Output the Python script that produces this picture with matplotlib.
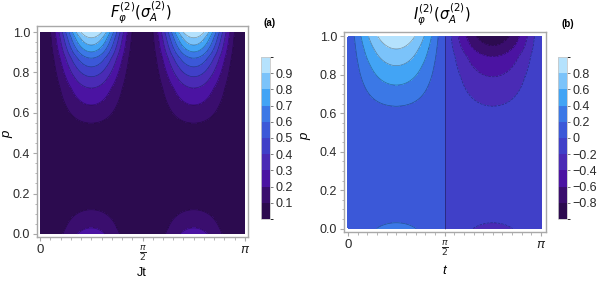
import numpy as np
import matplotlib
matplotlib.use('Agg')
import matplotlib.pyplot as plt
from matplotlib.colors import ListedColormap, BoundaryNorm

plt.rcParams['font.family'] = ['Liberation Sans', 'DejaVu Sans']
plt.rcParams['mathtext.fontset'] = 'dejavusans'

# band colours, lowest band first
band_colors = ['#2c0b4f', '#3a0e6e', '#4b13a2', '#4a2bb5', '#4040c8',
               '#3b58d8', '#3b78e6', '#42a4f5', '#7bc3fa', '#b5e2fd']

# panel (a): value of F at the lobe centre (Jt = pi/4) against p
p_a = [0.0, 0.03, 0.12, 0.2, 0.3, 0.4, 0.5, 0.549, 0.639, 0.723, 0.779,
       0.828, 0.871, 0.902, 0.936, 0.972, 1.0]
g_a = [0.24, 0.2, 0.1, 0.055, 0.03, 0.03, 0.065, 0.1, 0.2, 0.3, 0.4,
       0.5, 0.6, 0.7, 0.8, 0.9, 1.0]
levels_a = [0, 0.1, 0.2, 0.3, 0.4, 0.5, 0.6, 0.7, 0.8, 0.9, 1.0]
ticks_a = [0.1, 0.2, 0.3, 0.4, 0.5, 0.6, 0.7, 0.8, 0.9]

# panel (b): |I| at the lobe centres (t = pi/4 positive, t = 3pi/4 negative) against p
p_b = [0.0, 0.03, 0.1, 0.2, 0.35, 0.5, 0.637, 0.747, 0.848, 0.935, 1.0]
h_pos = [0.25, 0.2, 0.15, 0.11, 0.1, 0.12, 0.2, 0.4, 0.6, 0.8, 0.97]
p_bn = [0.0, 0.03, 0.1, 0.2, 0.35, 0.5, 0.637, 0.79, 0.895, 0.952, 1.0]
h_neg = [0.25, 0.2, 0.15, 0.11, 0.1, 0.12, 0.2, 0.4, 0.6, 0.8, 0.93]
levels_b = [-1, -0.8, -0.6, -0.4, -0.2, 0, 0.2, 0.4, 0.6, 0.8, 1.0]
ticks_b = [-0.8, -0.6, -0.4, -0.2, 0, 0.2, 0.4, 0.6, 0.8]

W, H = 599, 281


def rect(x0, x1, y0, y1):
    return [x0 / W, 1 - y1 / H, (x1 - x0) / W, (y1 - y0) / H]


def ftext(x, y, s, **kw):
    fig.text(x / W, 1 - y / H, s, ha='center', va='center', **kw)


t = np.linspace(0, np.pi, 601)
p = np.linspace(0, 1, 401)
T, P = np.meshgrid(t, p)

F = np.interp(P, p_a, g_a) * np.sin(2 * T) ** 2
Ib = np.where(T < np.pi / 2, np.interp(P, p_b, h_pos), np.interp(P, p_bn, h_neg)) * np.sin(2 * T)

cmap = ListedColormap(band_colors)
fig = plt.figure(figsize=(W / 100, H / 100), dpi=100)

gray = '#a8a8a8'
tcol = '#2a2a2a'


def style(ax):
    for s in ax.spines.values():
        s.set_color(gray)
        s.set_linewidth(1.0)
    ax.tick_params(colors=gray, labelcolor=tcol, labelsize=9, length=3, width=0.8,
                   direction='out', pad=2)
    ax.tick_params(which='minor', colors=gray, length=1.8, width=0.6)
    ax.set_yticks([0, 0.2, 0.4, 0.6, 0.8, 1.0])
    ax.set_yticklabels(['0.0', '0.2', '0.4', '0.6', '0.8', '1.0'])
    ax.set_yticks(np.arange(0, 1.001, 0.05), minor=True)
    ax.set_xticks([0, np.pi / 2, np.pi])
    ax.set_xticklabels(['0', r'$\frac{\pi}{2}$', r'$\pi$'], fontsize=9.5)
    ax.set_xticks(np.arange(0, np.pi + 0.01, np.pi / 20), minor=True)


def bar(cax, cf, ticks, labels):
    cb = fig.colorbar(cf, cax=cax, ticks=ticks)
    cb.outline.set_edgecolor('#c8c8c8')
    cb.outline.set_linewidth(0.6)
    cax.tick_params(colors='#666666', labelcolor=tcol, labelsize=9, length=2.5, width=0.6, pad=1.5)
    cb.set_ticklabels(labels)


# panel (a)
ax1 = fig.add_axes(rect(37, 248, 26, 237))
cf1 = ax1.contourf(T, P, F, levels=levels_a, cmap=cmap, norm=BoundaryNorm(levels_a, 10))
ax1.contour(T, P, F, levels=levels_a[1:-1], colors='k', linewidths=0.5, alpha=0.35)
ax1.set_xlim(-0.046, np.pi + 0.046)
ax1.set_ylim(-0.015, 1.03)
style(ax1)
ftext(141, 13, r'$F_{\varphi}^{(2)}(\sigma_A^{(2)})$', fontsize=10.5)
ftext(142, 273, 'Jt', fontsize=9)
ftext(7, 134, 'p', fontsize=9.5, style='italic', rotation=90)
fig.text(264 / W, 1 - 23 / H, '(a)', fontsize=7, fontweight='bold', ha='left', va='center')

cax1 = fig.add_axes(rect(261, 270, 57, 219))
bar(cax1, cf1, ticks_a, ['0.1', '0.2', '0.3', '0.4', '0.5', '0.6', '0.7', '0.8', '0.9'])

# panel (b)
ax2 = fig.add_axes(rect(344, 546, 32, 232))
cf2 = ax2.contourf(T, P, Ib, levels=levels_b, cmap=cmap, norm=BoundaryNorm(levels_b, 10))
ax2.contour(T, P, Ib, levels=[l for l in levels_b[1:-1] if l != 0], colors='k',
            linewidths=0.5, alpha=0.35)
inner = (t > 0.2) & (t < np.pi - 0.2)
ax2.contour(T[:, inner], P[:, inner], Ib[:, inner], levels=[0], colors='k',
            linewidths=0.6, alpha=0.4)
ax2.set_xlim(-0.065, np.pi + 0.08)
ax2.set_ylim(-0.018, 1.023)
style(ax2)
ftext(442, 15, r'$I_{\varphi}^{(2)}(\sigma_A^{(2)})$', fontsize=10.5)
ftext(444, 271, 't', fontsize=9.5, style='italic')
ftext(305, 136, 'p', fontsize=9.5, style='italic', rotation=90)
fig.text(561 / W, 1 - 24 / H, '(b)', fontsize=7, fontweight='bold', ha='left', va='center')

cax2 = fig.add_axes(rect(558, 567, 57, 219))
bar(cax2, cf2, ticks_b, ['\u22120.8', '\u22120.6', '\u22120.4', '\u22120.2', '0',
                         '0.2', '0.4', '0.6', '0.8'])

fig.savefig('out.png', dpi=100)
